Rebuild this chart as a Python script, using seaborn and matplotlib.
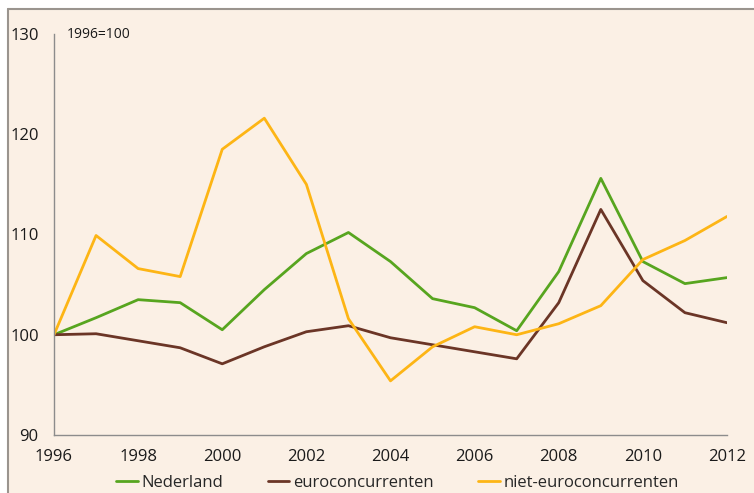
import seaborn as sns
import matplotlib.pyplot as plt
import pandas as pd
from matplotlib.lines import Line2D
from matplotlib.patches import Rectangle

years = list(range(1996, 2013))
nederland = [100, 101.7, 103.5, 103.2, 100.5, 104.5, 108.1, 110.2, 107.3,
             103.6, 102.7, 100.4, 106.3, 115.6, 107.3, 105.1, 105.7]
euro = [100, 100.1, 99.4, 98.7, 97.1, 98.8, 100.3, 100.9, 99.7,
        99.0, 98.3, 97.6, 103.2, 112.5, 105.4, 102.2, 101.2]
niet_euro = [100, 109.9, 106.6, 105.8, 118.5, 121.6, 115.0, 101.6, 95.4,
             98.8, 100.8, 100.0, 101.1, 102.9, 107.5, 109.4, 111.8]
series_names = ["Nederland", "euroconcurrenten", "niet-euroconcurrenten"]
colors = ["#57a51f", "#6b3526", "#fdb515"]

df = pd.DataFrame({
    "jaar": years * 3,
    "index": nederland + euro + niet_euro,
    "reeks": [n for n in series_names for _ in years],
})

bg = "#fbf0e5"
sns.set_style("white")
plt.rcParams["font.family"] = ["Open Sans", "DejaVu Sans"]

fig = plt.figure(figsize=(7.54, 4.93), dpi=100, facecolor="white")
# cream panel with grey frame on top/left
fig.patches.append(Rectangle((8 / 754, 0), 1, (493 - 9) / 493, transform=fig.transFigure,
                             facecolor=bg, edgecolor="none", zorder=-10))
fig.lines.append(Line2D([8 / 754, 8 / 754], [0, (493 - 9) / 493], transform=fig.transFigure,
                        color="#9a948e", lw=1.5))
fig.lines.append(Line2D([8 / 754, 1], [(493 - 9) / 493] * 2, transform=fig.transFigure,
                        color="#9a948e", lw=1.5))

ax = fig.add_axes([54 / 754, (493 - 435) / 493, (727 - 54) / 754, (435 - 34) / 493])
ax.set_facecolor(bg)

sns.lineplot(data=df, x="jaar", y="index", hue="reeks", palette=colors,
             linewidth=2, ax=ax, legend=False)

ax.set_xlim(1996, 2012)
ax.set_ylim(90, 130)
ax.set_yticks([90, 100, 110, 120, 130])
ax.set_xticks(years)
ax.set_xticklabels([str(y) if y % 2 == 0 else "" for y in years])
ax.set_xlabel("")
ax.set_ylabel("")
for s in ["top", "right"]:
    ax.spines[s].set_visible(False)
for s in ["left", "bottom"]:
    ax.spines[s].set_color("#8c8c8c")
    ax.spines[s].set_linewidth(1)
ax.tick_params(axis="both", direction="out", length=5, width=1, color="#8c8c8c",
               labelsize=12, labelcolor="#1a1a1a")
ax.tick_params(axis="y", pad=6)
ax.tick_params(axis="x", pad=5)

ax.text(1996.3, 130, "1996=100", fontsize=10, va="center", ha="left", color="#1a1a1a")

handles = [Line2D([0], [0], color=c, lw=2) for c in colors]
fig.legend(handles, series_names, loc="lower center", ncol=3, frameon=False,
           fontsize=12, handlelength=1.3, handletextpad=0.2, columnspacing=2.7,
           bbox_to_anchor=(0.527, -0.027))

fig.savefig("out.png", dpi=100, facecolor="white")
